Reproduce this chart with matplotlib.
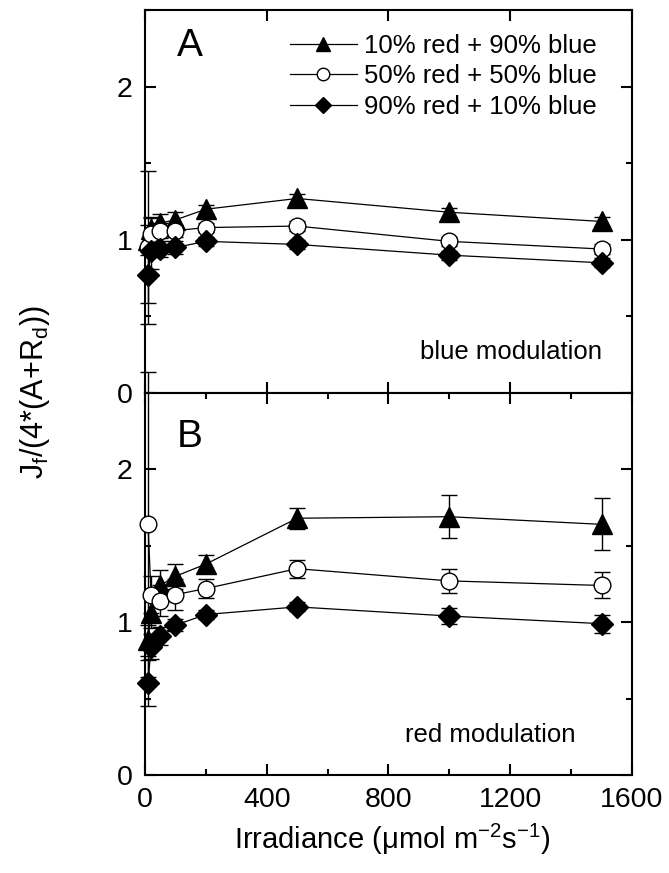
import numpy as np
import matplotlib
matplotlib.use('Agg')
import matplotlib.pyplot as plt
from matplotlib.ticker import MultipleLocator

plt.rcParams['font.family'] = ['Liberation Sans', 'DejaVu Sans']
plt.rcParams['mathtext.fontset'] = 'custom'
plt.rcParams['mathtext.rm'] = 'Liberation Sans'
plt.rcParams['mathtext.it'] = 'Liberation Sans:italic'

# irradiance levels (umol m-2 s-1)
irr = [10, 20, 50, 100, 200, 500, 1000, 1500]
labels = ['10% red + 90% blue', '50% red + 50% blue', '90% red + 10% blue']

# panel A - blue modulation
a_tri = [1.00, 1.07, 1.11, 1.13, 1.20, 1.27, 1.18, 1.12]
a_tri_err = [0.10, 0.08, 0.06, 0.05, 0.03, 0.03, 0.03, 0.03]
a_circ = [0.95, 1.04, 1.06, 1.06, 1.08, 1.09, 0.99, 0.94]
a_circ_err = [0.50, 0.10, 0.05, 0.04, 0.03, 0.03, 0.03, 0.03]
a_dia = [0.77, 0.93, 0.94, 0.95, 0.99, 0.97, 0.90, 0.85]
a_dia_err = [0.18, 0.12, 0.05, 0.04, 0.03, 0.03, 0.03, 0.03]

# panel B - red modulation
b_tri = [0.88, 1.06, 1.24, 1.30, 1.38, 1.68, 1.69, 1.64]
b_tri_err = [0.10, 0.10, 0.10, 0.08, 0.06, 0.07, 0.14, 0.17]
b_circ = [1.64, 1.18, 1.14, 1.18, 1.22, 1.35, 1.27, 1.24]
b_circ_err = [1.00, 0.12, 0.10, 0.10, 0.06, 0.06, 0.08, 0.085]
b_dia = [0.60, 0.84, 0.91, 0.98, 1.05, 1.10, 1.04, 0.99]
b_dia_err = [0.15, 0.08, 0.06, 0.04, 0.03, 0.03, 0.05, 0.06]

markers = ['^', 'o', 'D']
sizes = [14, 12, 11]
faces = ['k', 'white', 'k']

fig = plt.figure(figsize=(6.69, 8.73), dpi=100)
ax1 = fig.add_axes([0.2167, 0.5498, 0.728, 0.4387])
ax2 = fig.add_axes([0.2167, 0.1123, 0.728, 0.4376])


def draw_panel(ax, series):
    lines = []
    for (y, err), mk, ms, fc, lab in zip(series, markers, sizes, faces, labels):
        ax.errorbar(irr, y, yerr=err, fmt='none', ecolor='k', elinewidth=1,
                    capsize=6, capthick=1, clip_on=False, zorder=2)
        ln, = ax.plot(irr, y, color='k', lw=0.9, marker=mk, ms=ms, mfc=fc,
                      mec='k', mew=1, clip_on=False, zorder=3, label=lab)
        lines.append(ln)
    ax.set_xlim(0, 1600)
    ax.set_ylim(0, 2.5)
    ax.xaxis.set_major_locator(MultipleLocator(400))
    ax.xaxis.set_minor_locator(MultipleLocator(200))
    ax.yaxis.set_major_locator(MultipleLocator(1))
    ax.yaxis.set_minor_locator(MultipleLocator(0.5))
    ax.tick_params(which='both', direction='in', top=True, right=True,
                   width=1.5, labelsize=20.5, pad=9)
    ax.tick_params(which='major', length=8)
    ax.tick_params(which='minor', length=4)
    for s in ax.spines.values():
        s.set_linewidth(1.5)
    return lines


lines = draw_panel(ax1, [(a_tri, a_tri_err), (a_circ, a_circ_err), (a_dia, a_dia_err)])
draw_panel(ax2, [(b_tri, b_tri_err), (b_circ, b_circ_err), (b_dia, b_dia_err)])

ax1.tick_params(axis='x', which='both', labelbottom=False)
ax1.tick_params(axis='x', which='minor', length=0)
ax1.set_yticks([0, 1, 2])

ax1.legend(handles=lines, loc='upper right', bbox_to_anchor=(0.965, 0.985),
           frameon=False, fontsize=18.5, markerscale=0.75, handlelength=2.6,
           handletextpad=0.3, labelspacing=0.25, borderaxespad=0.3)

ax1.text(0.092, 0.907, 'A', transform=ax1.transAxes, fontsize=28,
         ha='center', va='center')
ax2.text(0.092, 0.884, 'B', transform=ax2.transAxes, fontsize=28,
         ha='center', va='center')
ax1.text(0.752, 0.107, 'blue modulation', transform=ax1.transAxes,
         fontsize=18.5, ha='center', va='center')
ax2.text(0.708, 0.105, 'red modulation', transform=ax2.transAxes,
         fontsize=18.5, ha='center', va='center')

fig.text(0.586, 0.038, r'Irradiance ($\mathregular{\mu}$mol m$\mathregular{^{-2}}$s$\mathregular{^{-1}}$)',
         fontsize=21, ha='center', va='center')
fig.text(0.052, 0.551, r'J$\mathregular{_f}$/(4*(A+R$\mathregular{_d}$))',
         fontsize=22, ha='center', va='center', rotation=90)

fig.savefig('out.png', dpi=100)
